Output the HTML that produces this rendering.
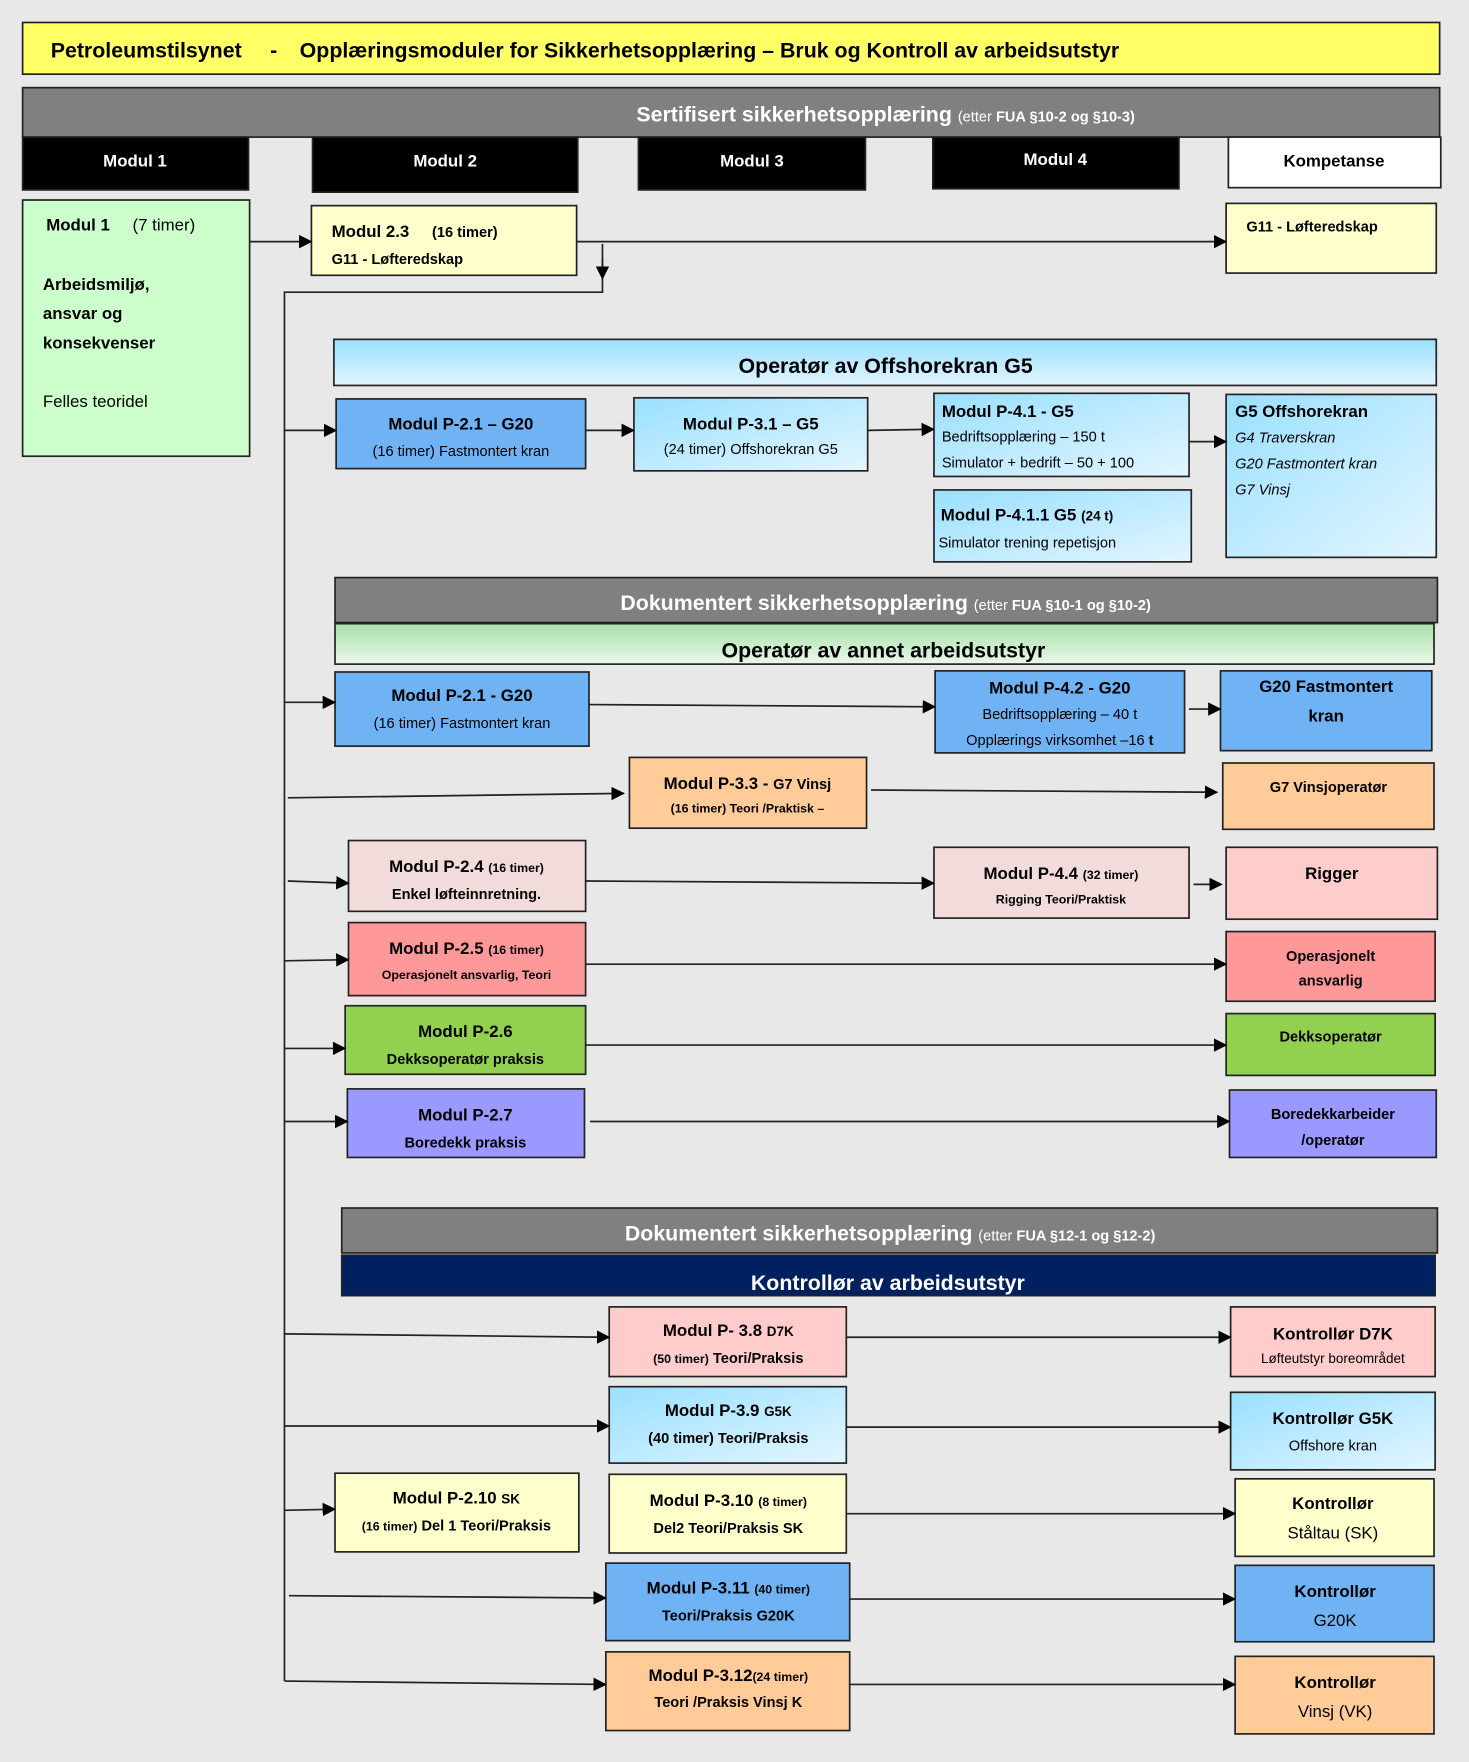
<!DOCTYPE html>
<html><head><meta charset="utf-8"><style>
html,body{margin:0;padding:0;background:#e8e8e8;}
svg{display:block;font-family:"Liberation Sans",sans-serif;}
</style></head><body>
<svg width="1469" height="1762" viewBox="0 0 1307 1568" xmlns="http://www.w3.org/2000/svg">
<defs>
<marker id="a" markerWidth="12" markerHeight="12" refX="11" refY="6" orient="auto" markerUnits="userSpaceOnUse"><path d="M0,0 L12,6 L0,12 z" fill="#000"/></marker>
<linearGradient id="lb" x1="0" y1="0" x2="1" y2="1"><stop offset="0" stop-color="#99e0ff"/><stop offset="1" stop-color="#e3f5ff"/></linearGradient>
<linearGradient id="lbh" x1="0" y1="0" x2="0" y2="1"><stop offset="0" stop-color="#99e0ff"/><stop offset="1" stop-color="#e3f5ff"/></linearGradient>
<linearGradient id="gr" x1="0" y1="0" x2="0" y2="1"><stop offset="0" stop-color="#a8e0a8"/><stop offset="1" stop-color="#eaf8ea"/></linearGradient>
</defs>
<rect width="1307" height="1568" fill="#e8e8e8"/>
<g stroke="#222" stroke-width="1.5">
<rect x="20" y="20" width="1261" height="46" fill="#ffff66"/>
<rect x="20" y="78" width="1261" height="44" fill="#808080"/>
<rect x="20" y="122" width="201" height="47" fill="#000"/>
<rect x="278" y="122" width="236" height="49" fill="#000"/>
<rect x="568" y="122" width="202" height="47" fill="#000"/>
<rect x="830" y="122" width="219" height="46" fill="#000"/>
<rect x="1093" y="122" width="189" height="45" fill="#fff"/>
<rect x="20" y="178" width="202" height="228" fill="#ccffcc"/>
<rect x="277" y="183" width="236" height="62" fill="#ffffcc"/>
<rect x="1091" y="181" width="187" height="62" fill="#ffffcc"/>
<rect x="297" y="302" width="981" height="41" fill="url(#lbh)"/>
<rect x="299" y="355" width="222" height="62" fill="#6fb3f5"/>
<rect x="564" y="354" width="208" height="65" fill="url(#lb)"/>
<rect x="831" y="350" width="227" height="74" fill="url(#lb)"/>
<rect x="831" y="436" width="229" height="64" fill="url(#lb)"/>
<rect x="1091" y="351" width="187" height="145" fill="url(#lb)"/>
<rect x="298" y="514" width="981" height="40" fill="#808080"/>
<rect x="298" y="555" width="978" height="36" fill="url(#gr)"/>
<rect x="298" y="598" width="226" height="66" fill="#6fb3f5"/>
<rect x="832" y="597" width="222" height="73" fill="#6fb3f5"/>
<rect x="1086" y="597" width="188" height="71" fill="#6fb3f5"/>
<rect x="560" y="674" width="211" height="63" fill="#ffcc99"/>
<rect x="1088" y="679" width="188" height="59" fill="#ffcc99"/>
<rect x="310" y="748" width="211" height="63" fill="#f2dcdb"/>
<rect x="831" y="754" width="227" height="63" fill="#f2dcdb"/>
<rect x="1091" y="754" width="188" height="64" fill="#ffcccc"/>
<rect x="310" y="821" width="211" height="65" fill="#ff9999"/>
<rect x="1091" y="829" width="186" height="62" fill="#ff9999"/>
<rect x="307" y="895" width="214" height="61" fill="#92d050"/>
<rect x="1091" y="902" width="186" height="55" fill="#92d050"/>
<rect x="309" y="969" width="211" height="61" fill="#9999ff"/>
<rect x="1094" y="970" width="184" height="60" fill="#9999ff"/>
<rect x="304" y="1075" width="975" height="40" fill="#808080"/>
<rect x="304" y="1117" width="973" height="36" fill="#002060"/>
<rect x="542" y="1163" width="211" height="62" fill="#ffcccc"/>
<rect x="1095" y="1163" width="182" height="62" fill="#ffcccc"/>
<rect x="542" y="1234" width="211" height="68" fill="url(#lb)"/>
<rect x="1095" y="1239" width="182" height="69" fill="url(#lb)"/>
<rect x="298" y="1311" width="217" height="70" fill="#ffffcc"/>
<rect x="542" y="1312" width="211" height="70" fill="#ffffcc"/>
<rect x="1099" y="1316" width="177" height="69" fill="#ffffcc"/>
<rect x="539" y="1391" width="217" height="69" fill="#6fb3f5"/>
<rect x="1099" y="1393" width="177" height="68" fill="#6fb3f5"/>
<rect x="539" y="1470" width="217" height="70" fill="#ffcc99"/>
<rect x="1099" y="1474" width="177" height="69" fill="#ffcc99"/>
</g>
<g stroke="#222" stroke-width="1.5" fill="none">
<path d="M536,217 V260 H253 V1496"/>
</g>
<g stroke="#222" stroke-width="1.5" marker-end="url(#a)">
<line x1="222" y1="215" x2="277" y2="215"/>
<line x1="513" y1="215" x2="1091" y2="215"/>
<line x1="536" y1="230" x2="536" y2="248"/>
<line x1="253" y1="383" x2="299" y2="383"/>
<line x1="521" y1="383" x2="564" y2="383"/>
<line x1="772" y1="383" x2="831" y2="382"/>
<line x1="1058" y1="393" x2="1091" y2="393"/>
<line x1="253" y1="625" x2="298" y2="625"/>
<line x1="524" y1="627" x2="832" y2="629"/>
<line x1="1058" y1="631" x2="1086" y2="631"/>
<line x1="256" y1="710" x2="555" y2="706"/>
<line x1="775" y1="703" x2="1083" y2="705"/>
<line x1="256" y1="784" x2="310" y2="786"/>
<line x1="521" y1="784" x2="831" y2="786"/>
<line x1="1062" y1="787" x2="1087" y2="787"/>
<line x1="253" y1="855" x2="310" y2="854"/>
<line x1="521" y1="858" x2="1091" y2="858"/>
<line x1="253" y1="933" x2="307" y2="933"/>
<line x1="521" y1="930" x2="1091" y2="930"/>
<line x1="253" y1="998" x2="309" y2="998"/>
<line x1="525" y1="998" x2="1094" y2="998"/>
<line x1="253" y1="1187" x2="542" y2="1190"/>
<line x1="753" y1="1190" x2="1095" y2="1190"/>
<line x1="253" y1="1269" x2="542" y2="1269"/>
<line x1="753" y1="1270" x2="1095" y2="1270"/>
<line x1="253" y1="1344" x2="298" y2="1343"/>
<line x1="753" y1="1347" x2="1099" y2="1347"/>
<line x1="257" y1="1420" x2="539" y2="1422"/>
<line x1="756" y1="1423" x2="1099" y2="1423"/>
<line x1="253" y1="1496" x2="539" y2="1499"/>
<line x1="756" y1="1499" x2="1099" y2="1499"/>
</g>
<g font-weight="bold" fill="#000">
<text x="45" y="51" font-size="19">Petroleumstilsynet <tspan dx="20">-</tspan><tspan dx="20">Opplæringsmoduler for Sikkerhetsopplæring – Bruk og Kontroll av arbeidsutstyr</tspan></text>
<text x="788" y="108" font-size="19" fill="#fff" text-anchor="middle">Sertifisert sikkerhetsopplæring <tspan font-size="13" font-weight="normal">(etter </tspan><tspan font-size="13">FUA §10-2 og §10-3)</tspan></text>
<g fill="#fff" font-size="15" text-anchor="middle">
<text x="120" y="148">Modul 1</text><text x="396" y="148">Modul 2</text><text x="669" y="148">Modul 3</text><text x="939" y="147">Modul 4</text>
<text x="1187" y="148" fill="#000">Kompetanse</text>
</g>
<g font-size="15">
<text x="41" y="205">Modul 1 <tspan font-weight="normal" dx="16">(7 timer)</tspan></text>
<text x="38" y="258">Arbeidsmiljø,</text><text x="38" y="284">ansvar og</text><text x="38" y="310">konsekvenser</text>
<text x="38" y="362" font-weight="normal">Felles teoridel</text>
<text x="295" y="211">Modul 2.3 <tspan font-size="13" dx="16">(16 timer)</tspan></text>
<text x="295" y="235" font-size="13">G11 - Løfteredskap</text>
<text x="1109" y="206" font-size="13">G11 - Løfteredskap</text>
</g>
<text x="788" y="332" font-size="19" text-anchor="middle">Operatør av Offshorekran G5</text>
<g font-size="15" text-anchor="middle">
<text x="410" y="382">Modul P-2.1 – G20</text>
<text x="410" y="406" font-size="13" font-weight="normal">(16 timer) Fastmontert kran</text>
<text x="668" y="382">Modul P-3.1 – G5</text>
<text x="668" y="404" font-size="13" font-weight="normal">(24 timer) Offshorekran G5</text>
</g>
<g font-size="15">
<text x="838" y="371">Modul P-4.1 - G5</text>
<text x="838" y="393" font-size="13" font-weight="normal">Bedriftsopplæring  – 150 t</text>
<text x="838" y="416" font-size="13" font-weight="normal">Simulator + bedrift – 50 + 100</text>
<text x="837" y="463">Modul P-4.1.1 G5 <tspan font-size="12">(24 t)</tspan></text>
<text x="835" y="487" font-size="13" font-weight="normal">Simulator trening repetisjon</text>
<text x="1099" y="371">G5 Offshorekran</text>
<g font-size="13" font-weight="normal" font-style="italic"><text x="1099" y="394">G4 Traverskran</text><text x="1099" y="417">G20 Fastmontert kran</text><text x="1099" y="440">G7 Vinsj</text></g>
</g>
<text x="788" y="543" font-size="19" fill="#fff" text-anchor="middle">Dokumentert sikkerhetsopplæring <tspan font-size="13" font-weight="normal">(etter </tspan><tspan font-size="13">FUA §10-1 og §10-2)</tspan></text>
<text x="786" y="585" font-size="19" text-anchor="middle">Operatør av annet arbeidsutstyr</text>
<g font-size="15" text-anchor="middle">
<text x="411" y="624">Modul P-2.1 - G20</text>
<text x="411" y="648" font-size="13" font-weight="normal">(16 timer) Fastmontert kran</text>
<text x="943" y="617">Modul P-4.2 - G20</text>
<text x="943" y="640" font-size="13" font-weight="normal">Bedriftsopplæring – 40 t</text>
<text x="943" y="663" font-size="13" font-weight="normal">Opplærings virksomhet –16 <tspan font-weight="bold">t</tspan></text>
<text x="1180" y="616">G20 Fastmontert</text><text x="1180" y="642">kran</text>
<text x="665" y="702">Modul P-3.3 - <tspan font-size="13">G7 Vinsj</tspan></text>
<text x="665" y="723" font-size="11">(16 timer) Teori /Praktisk –</text>
<text x="1182" y="705" font-size="13">G7 Vinsjoperatør</text>
<text x="415" y="776">Modul P-2.4 <tspan font-size="11">(16 timer)</tspan></text>
<text x="415" y="800" font-size="13">Enkel løfteinnretning.</text>
<text x="944" y="782">Modul P-4.4 <tspan font-size="11">(32 timer)</tspan></text>
<text x="944" y="804" font-size="11">Rigging Teori/Praktisk</text>
<text x="1185" y="782">Rigger</text>
<text x="415" y="849">Modul P-2.5 <tspan font-size="11">(16 timer)</tspan></text>
<text x="415" y="871" font-size="11">Operasjonelt ansvarlig, Teori</text>
<text x="1184" y="855" font-size="13">Operasjonelt</text><text x="1184" y="877" font-size="13">ansvarlig</text>
<text x="414" y="923">Modul P-2.6</text>
<text x="414" y="947" font-size="13">Dekksoperatør praksis</text>
<text x="1184" y="927" font-size="13">Dekksoperatør</text>
<text x="414" y="997">Modul P-2.7</text>
<text x="414" y="1021" font-size="13">Boredekk praksis</text>
<text x="1186" y="996" font-size="13">Boredekkarbeider</text><text x="1186" y="1019" font-size="13">/operatør</text>
</g>
<text x="792" y="1104" font-size="19" fill="#fff" text-anchor="middle">Dokumentert sikkerhetsopplæring <tspan font-size="13" font-weight="normal">(etter </tspan><tspan font-size="13">FUA §12-1 og §12-2)</tspan></text>
<text x="790" y="1148" font-size="19" fill="#fff" text-anchor="middle">Kontrollør av arbeidsutstyr</text>
<g font-size="15" text-anchor="middle">
<text x="648" y="1189">Modul P- 3.8 <tspan font-size="12">D7K</tspan></text>
<text x="648" y="1213" font-size="13"><tspan font-size="11">(50 timer)</tspan>  Teori/Praksis</text>
<text x="1186" y="1192">Kontrollør D7K</text>
<text x="1186" y="1213" font-size="12" font-weight="normal">Løfteutstyr boreområdet</text>
<text x="648" y="1260">Modul P-3.9 <tspan font-size="12">G5K</tspan></text>
<text x="648" y="1284" font-size="13">(40 timer)  Teori/Praksis</text>
<text x="1186" y="1267">Kontrollør G5K</text>
<text x="1186" y="1291" font-size="13" font-weight="normal">Offshore kran</text>
<text x="406" y="1338">Modul P-2.10 <tspan font-size="12">SK</tspan></text>
<text x="406" y="1362" font-size="13"><tspan font-size="11">(16 timer)</tspan> Del 1 Teori/Praksis</text>
<text x="648" y="1340">Modul P-3.10 <tspan font-size="11">(8 timer)</tspan></text>
<text x="648" y="1364" font-size="13">Del2 Teori/Praksis SK</text>
<text x="1186" y="1343">Kontrollør</text>
<text x="1186" y="1369" font-weight="normal">Ståltau (SK)</text>
<text x="648" y="1418">Modul P-3.11 <tspan font-size="11">(40 timer)</tspan></text>
<text x="648" y="1442" font-size="13">Teori/Praksis G20K</text>
<text x="1188" y="1421">Kontrollør</text>
<text x="1188" y="1447" font-weight="normal">G20K</text>
<text x="648" y="1496">Modul P-3.12<tspan font-size="11">(24 timer)</tspan></text>
<text x="648" y="1519" font-size="13">Teori /Praksis Vinsj K</text>
<text x="1188" y="1502">Kontrollør</text>
<text x="1188" y="1528" font-weight="normal">Vinsj (VK)</text>
</g>
</g>
</svg>
</body></html>
